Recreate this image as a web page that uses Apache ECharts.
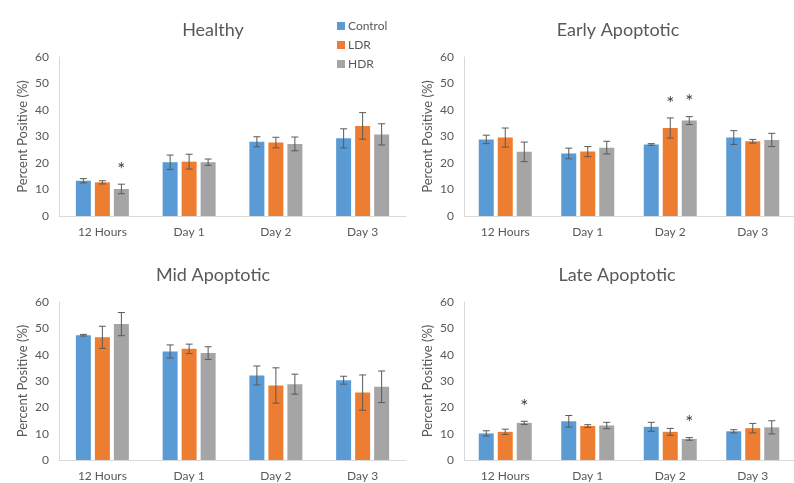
<!DOCTYPE html>
<html><head><meta charset="utf-8">
<script src="https://cdn.jsdelivr.net/npm/echarts@6/dist/echarts.min.js"></script>
<style>html,body{margin:0;padding:0;background:#fff}#c{width:794px;height:483px}</style>
</head><body><div id="c"></div>
<script>
const categories = ['12 Hours', 'Day 1', 'Day 2', 'Day 3'];
const seriesNames = ['Control', 'LDR', 'HDR'];
const yTicks = [0, 10, 20, 30, 40, 50, 60];

const healthyControl = [13.3, 20.3, 28.0, 29.3];
const healthyControlErr = [0.8, 2.7, 1.9, 3.6];
const healthyLDR = [12.7, 20.5, 27.7, 34.0];
const healthyLDRErr = [0.6, 2.8, 2.0, 5.0];
const healthyHDR = [10.2, 20.3, 27.2, 30.8];
const healthyHDRErr = [1.8, 1.2, 2.6, 4.0];
const healthyStars = [[0,0,0,0],[0,0,0,0],[1,0,0,0]];

const earlyControl = [28.9, 23.6, 27.0, 29.6];
const earlyControlErr = [1.6, 2.0, 0.3, 2.6];
const earlyLDR = [29.6, 24.3, 33.2, 28.2];
const earlyLDRErr = [3.6, 1.9, 3.8, 0.7];
const earlyHDR = [24.2, 25.8, 36.0, 28.7];
const earlyHDRErr = [3.7, 2.4, 1.5, 2.5];
const earlyStars = [[0,0,0,0],[0,0,1,0],[0,0,1,0]];

const midControl = [47.4, 41.2, 32.1, 30.3];
const midControlErr = [0.3, 2.5, 3.6, 1.5];
const midLDR = [46.6, 42.2, 28.3, 25.6];
const midLDRErr = [4.2, 1.8, 6.7, 6.7];
const midHDR = [51.6, 40.6, 28.8, 27.8];
const midHDRErr = [4.4, 2.4, 3.8, 6.0];
const midStars = [[0,0,0,0],[0,0,0,0],[0,0,0,0]];

const lateControl = [10.1, 14.7, 12.6, 10.9];
const lateControlErr = [1.0, 2.2, 1.7, 0.6];
const lateLDR = [10.7, 12.9, 10.7, 12.1];
const lateLDRErr = [1.0, 0.5, 1.3, 1.8];
const lateHDR = [14.1, 13.1, 8.0, 12.4];
const lateHDRErr = [0.6, 1.2, 0.5, 2.5];
const lateStars = [[0,0,0,0],[0,0,0,0],[1,0,1,0]];

const panels = [
  {title: 'Healthy', vals: [healthyControl, healthyLDR, healthyHDR], errs: [healthyControlErr, healthyLDRErr, healthyHDRErr], stars: healthyStars},
  {title: 'Early Apoptotic', vals: [earlyControl, earlyLDR, earlyHDR], errs: [earlyControlErr, earlyLDRErr, earlyHDRErr], stars: earlyStars},
  {title: 'Mid Apoptotic', vals: [midControl, midLDR, midHDR], errs: [midControlErr, midLDRErr, midHDRErr], stars: midStars},
  {title: 'Late Apoptotic', vals: [lateControl, lateLDR, lateHDR], errs: [lateControlErr, lateLDRErr, lateHDRErr], stars: lateStars}
];

const colors = ['#5B9BD5', '#ED7D31', '#A5A5A5'];
const FONT = 'Lato, "Open Sans", sans-serif';
const TXT = '#595959';
const BAR_W = 15, GAP = 4;

const grids = [
  {left: 59, top: 57, width: 347, height: 159},
  {left: 464, top: 57, width: 345, height: 159},
  {left: 59, top: 302, width: 347, height: 158},
  {left: 464, top: 302, width: 345, height: 158}
];
const titlePos = [[208, 16], [613, 16], [208, 261], [612, 261]];

function errRender(k) {
  return function (params, api) {
    const xi = api.value(0), v = api.value(1), e = api.value(2), star = api.value(3);
    const c = api.coord([xi, v]);
    const x = c[0] + (k - 1) * (BAR_W + GAP);
    const yt = api.coord([xi, v + e])[1];
    const yb = api.coord([xi, v - e])[1];
    const st = {stroke: '#595959', lineWidth: 1};
    const ch = [
      {type: 'line', shape: {x1: x, y1: yt, x2: x, y2: yb}, style: st},
      {type: 'line', shape: {x1: x - 3.5, y1: yt, x2: x + 3.5, y2: yt}, style: st},
      {type: 'line', shape: {x1: x - 3.5, y1: yb, x2: x + 3.5, y2: yb}, style: st}
    ];
    if (star) {
      ch.push({type: 'text', style: {text: '*', x: x, y: yt - 5, align: 'center', verticalAlign: 'bottom', fontSize: 19, fontFamily: FONT, fill: '#404040'}});
    }
    return {type: 'group', children: ch};
  };
}

const option = {
  animation: false,
  color: colors,
  title: panels.map((p, i) => ({text: p.title, left: titlePos[i][0], top: titlePos[i][1], textAlign: 'center',
    textStyle: {fontFamily: FONT, fontSize: 18, fontWeight: 'normal', color: TXT}})),
  legend: {orient: 'vertical', left: 332, top: 15, itemWidth: 8, itemHeight: 8, itemGap: 7,
    icon: 'rect', data: seriesNames, textStyle: {fontFamily: FONT, fontSize: 12, color: TXT, padding: [0,0,0,-2]}},
  grid: grids,
  xAxis: grids.map((g, i) => ({type: 'category', gridIndex: i, data: categories,
    axisLine: {lineStyle: {color: '#d9d9d9'}}, axisTick: {show: false},
    axisLabel: {fontFamily: FONT, fontSize: 12, color: TXT, margin: 10}})),
  yAxis: grids.map((g, i) => ({type: 'value', gridIndex: i, min: yTicks[0], max: yTicks[yTicks.length - 1], interval: 10,
    name: 'Percent Positive (%)', nameLocation: 'middle', nameGap: 30,
    nameTextStyle: {fontFamily: FONT, fontSize: 13, color: TXT},
    axisLine: {show: true, lineStyle: {color: '#d9d9d9'}}, axisTick: {show: false}, splitLine: {show: false},
    axisLabel: {fontFamily: FONT, fontSize: 12, color: TXT, margin: 10}})),
  series: []
};

panels.forEach((p, i) => {
  seriesNames.forEach((n, k) => {
    option.series.push({type: 'bar', name: n, xAxisIndex: i, yAxisIndex: i, data: p.vals[k],
      barWidth: BAR_W, barGap: (GAP / BAR_W * 100) + '%', itemStyle: {color: colors[k]}});
  });
  seriesNames.forEach((n, k) => {
    option.series.push({type: 'custom', xAxisIndex: i, yAxisIndex: i, z: 5, silent: true,
      renderItem: errRender(k),
      data: categories.map((c, j) => [j, p.vals[k][j], p.errs[k][j], p.stars[k][j]])});
  });
});

const chart = echarts.init(document.getElementById('c'), null, {renderer: 'canvas'});
chart.setOption(option);
</script></body></html>
